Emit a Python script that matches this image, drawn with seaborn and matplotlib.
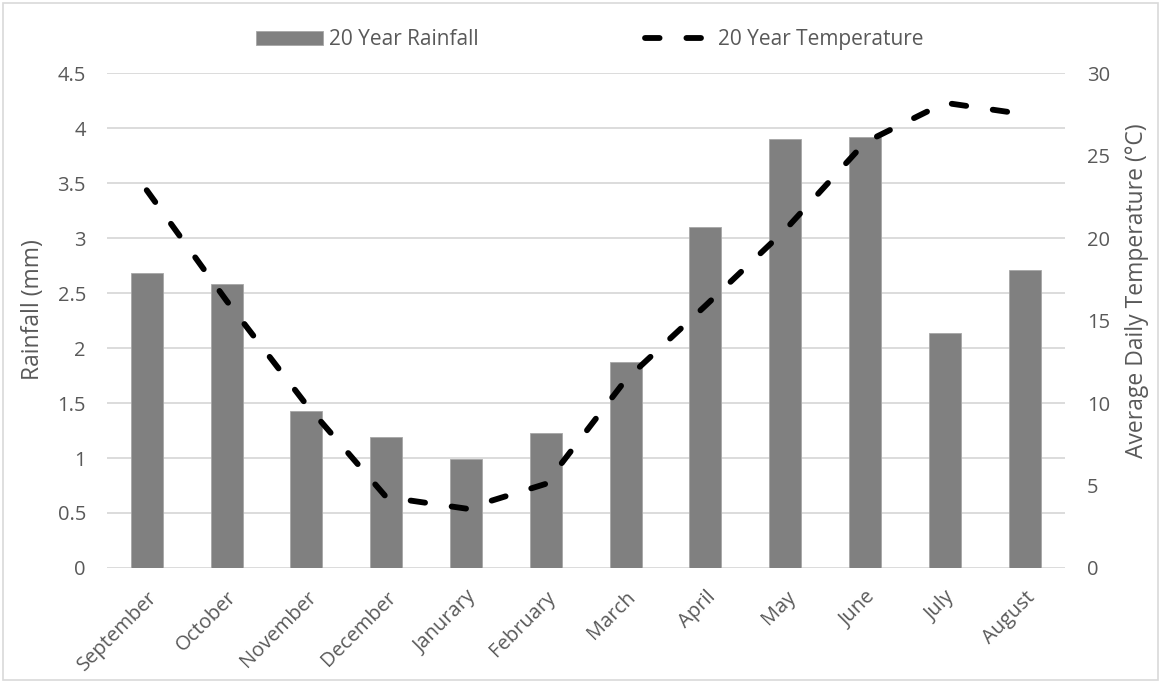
import numpy as np
import pandas as pd
import seaborn as sns
import matplotlib.pyplot as plt
from matplotlib.patches import Patch, Rectangle
from matplotlib.lines import Line2D

# values
months = ['September', 'October', 'November', 'December', 'Janurary', 'February',
          'March', 'April', 'May', 'June', 'July', 'August']
rainfall = [2.68, 2.58, 1.43, 1.19, 0.99, 1.23, 1.875, 3.10, 3.90, 3.92, 2.14, 2.71]
temperature = [22.9, 16.2, 9.9, 4.3, 3.6, 5.1, 11.4, 15.9, 20.5, 25.8, 28.2, 27.5]
rain_ticks = [0, 0.5, 1, 1.5, 2, 2.5, 3, 3.5, 4, 4.5]
rain_tick_labels = ['0', '0.5', '1', '1.5', '2', '2.5', '3', '3.5', '4', '4.5']
temp_ticks = [0, 5, 10, 15, 20, 25, 30]

df = pd.DataFrame({'Month': months, 'Rainfall': rainfall, 'Temperature': temperature})

sns.set_style('white')
plt.rcParams['font.family'] = ['Open Sans', 'DejaVu Sans']
txt = '#595959'
grid = '#d9d9d9'
dash = (0, (2.5, 4.6))

fig = plt.figure(figsize=(11.61, 6.83), dpi=100)
ax = fig.add_axes([0.092, 0.1684, 0.917 - 0.092, 0.893 - 0.1684])

sns.barplot(data=df, x='Month', y='Rainfall', color='#808080', saturation=1,
            width=0.4, edgecolor='#a6a6a6', linewidth=0.6, ax=ax, zorder=2)
ax.set_ylim(0, 4.5)
ax.set_yticks(rain_ticks)
ax.set_yticklabels(rain_tick_labels)
ax.set_xlim(-0.5, len(months) - 0.5)
ax.grid(axis='y', color=grid, linewidth=1.3, zorder=0)
ax.set_axisbelow(True)
for s in ax.spines.values():
    s.set_visible(False)
ax.tick_params(axis='y', length=0, pad=15, labelsize=14.5, labelcolor=txt)
ax.tick_params(axis='x', length=0, pad=14, labelsize=14.5, labelcolor=txt)
for lab in ax.get_xticklabels():
    lab.set_rotation(45)
    lab.set_ha('right')
    lab.set_rotation_mode('anchor')
ax.set_xlabel('')
ax.set_ylabel('Rainfall (mm)', fontsize=16.5, color=txt)
ax.yaxis.set_label_coords(-0.065, 0.523)

ax2 = ax.twinx()
sns.lineplot(x=df.index, y=df['Temperature'], ax=ax2, color='black', linewidth=4.2,
             linestyle=dash, dash_capstyle='round', zorder=3)
ax2.set_ylim(0, 30)
ax2.set_yticks(temp_ticks)
ax2.grid(False)
for s in ax2.spines.values():
    s.set_visible(False)
ax2.tick_params(axis='y', length=0, pad=16, labelsize=14.5, labelcolor=txt)
ax2.set_ylabel('Average Daily Temperature (°C)', fontsize=16.5, color=txt)
ax2.yaxis.set_label_coords(1.063, 0.56)

handles = [Patch(facecolor='#808080', edgecolor='#a6a6a6', linewidth=0.6),
           Line2D([], [], color='black', linewidth=4.2, linestyle=dash,
                  dash_capstyle='round')]
fig.legend(handles, ['20 Year Rainfall', '20 Year Temperature'], loc='center',
           bbox_to_anchor=(0.508, 0.942), ncol=2, frameon=False, fontsize=15,
           labelcolor=txt, handlelength=3.2, handleheight=0.65, handletextpad=0.3,
           columnspacing=8.0)

fig.patches.append(Rectangle((0.003, 0.004), 0.994, 0.992, transform=fig.transFigure,
                             fill=False, edgecolor=grid, linewidth=1.2))

fig.savefig('out.png', dpi=100)
